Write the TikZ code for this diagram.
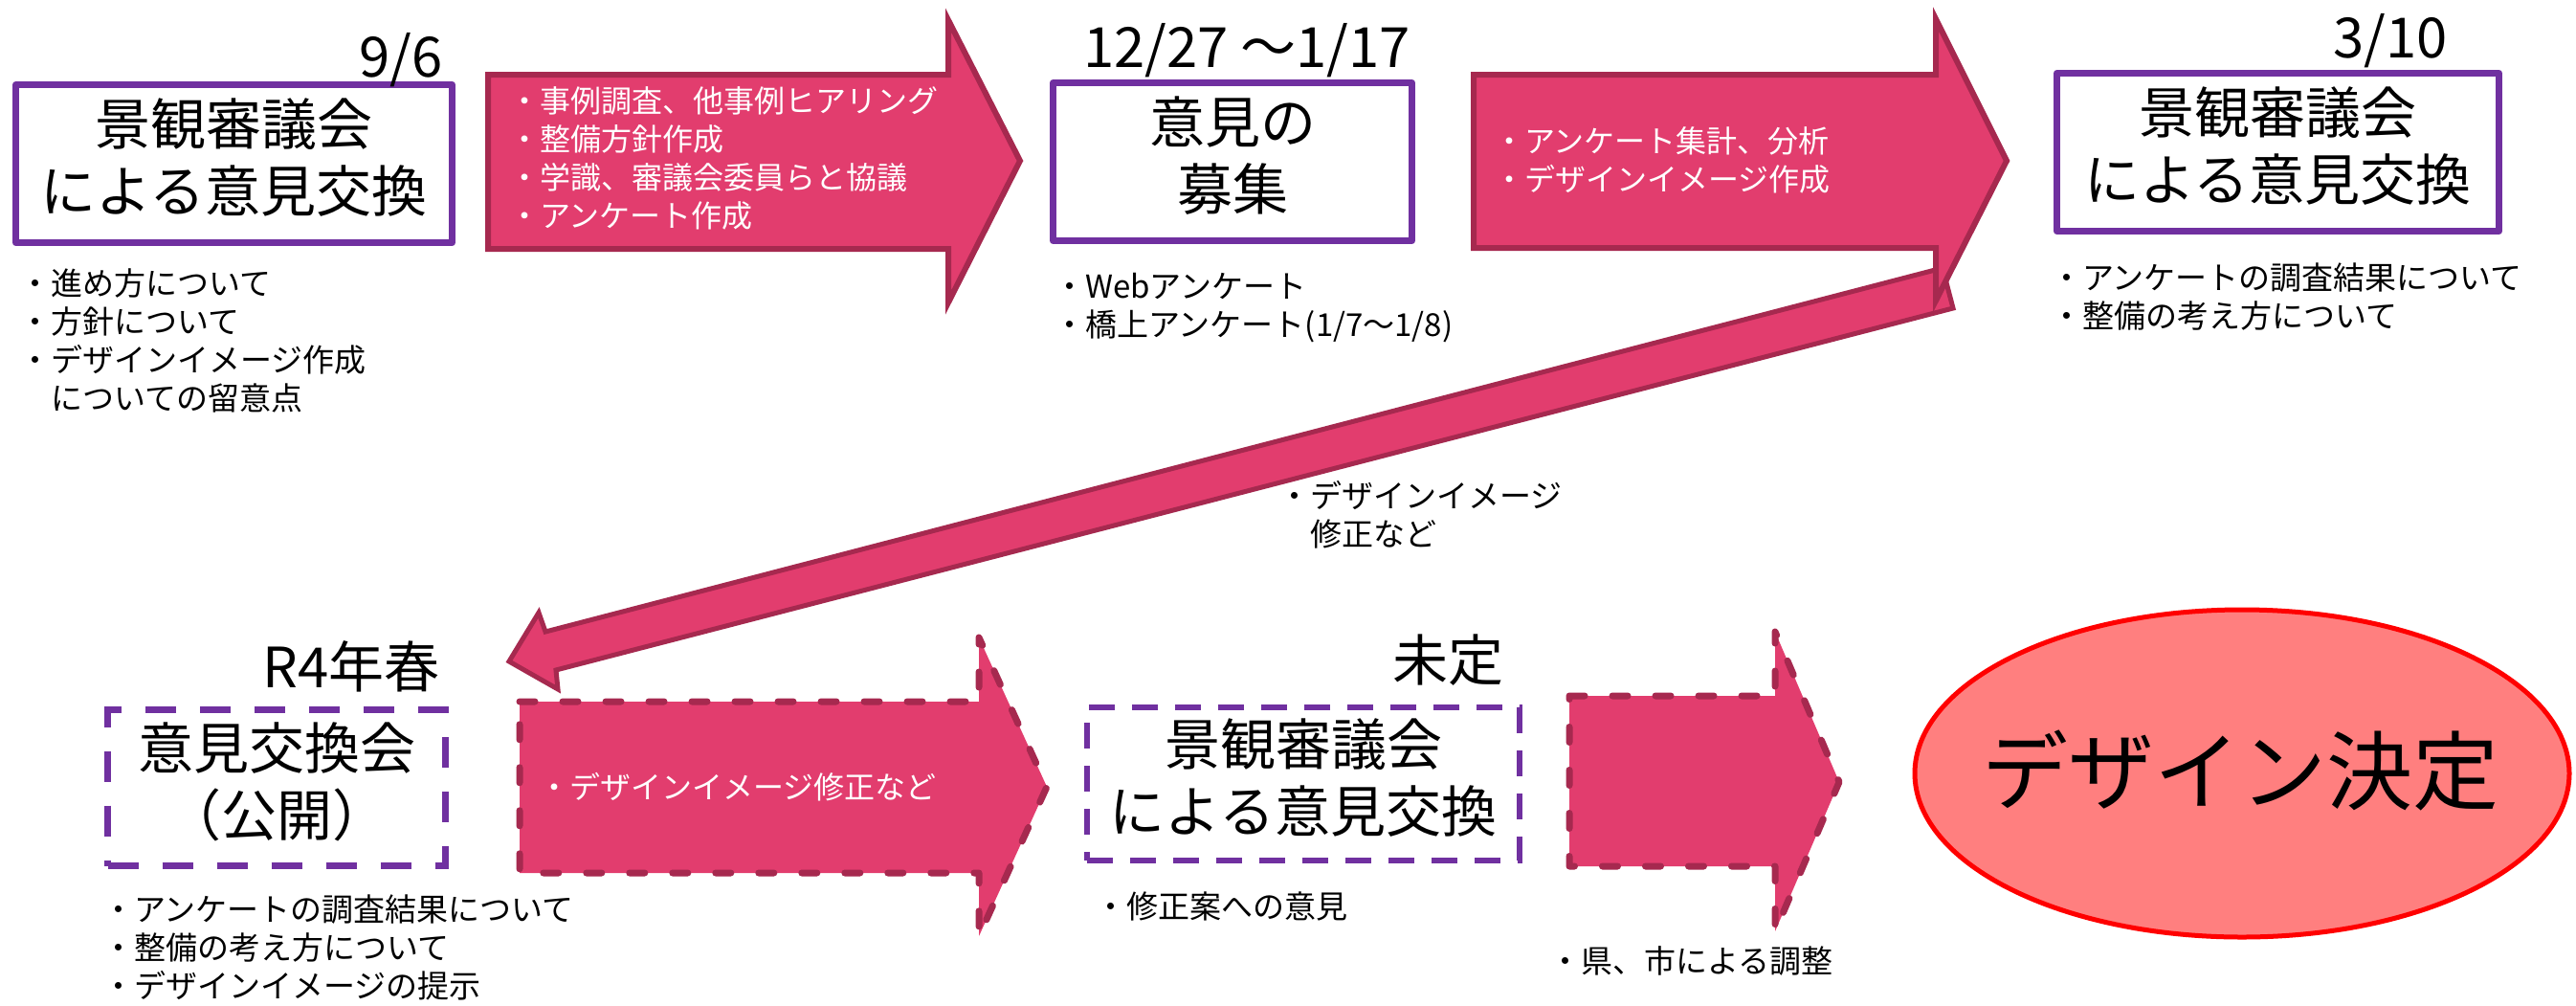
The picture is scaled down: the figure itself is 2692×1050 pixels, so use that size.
\documentclass[tikz,border=0pt]{standalone}
\usepackage{fontspec}
\setmainfont{Noto Sans CJK JP}
\usetikzlibrary{shapes.geometric}
\definecolor{purp}{HTML}{7030A0}
\definecolor{arrfill}{HTML}{E23D6E}
\definecolor{arrline}{HTML}{A6294F}
\definecolor{salmon}{HTML}{FF7F7F}
\tikzset{
  pbox/.style={draw=purp, line width=7pt, fill=white, line join=round, inner sep=0pt},
  pdbox/.style={draw=purp, line width=7pt, dash pattern=on 32pt off 25pt, inner sep=0pt},
  sarrow/.style={draw=arrline, fill=arrfill, line width=6pt, line join=miter},
  darrow/.style={draw=arrline, fill=arrfill, line width=7pt, dash pattern=on 16pt off 29pt, line cap=round, line join=round},
  bigtxt/.style={font=\fontsize{58}{70}\selectfont, align=center, inner sep=0pt},
  desctxt/.style={font=\fontsize{33}{40}\selectfont, align=left, inner sep=0pt, anchor=north west},
  wdesctxt/.style={desctxt, font=\fontsize{32}{40}\selectfont, text=white},
  datetxt/.style={font=\fontsize{58}{70}\selectfont, inner sep=0pt, anchor=base east},
}
\begin{document}
\begin{tikzpicture}[x=1pt, y=-1pt]
\useasboundingbox (0,0) rectangle (2692,1050);

% ---------- top row ----------
\node[pbox, minimum width=456pt, minimum height=165pt] (b1) at (244.5,171) {};
\node[bigtxt] (t1) at (244.5,165) {景観審議会\\による意見交換};
\node[datetxt] (d1date) at (463,80) {9/6};
\node[desctxt] (d1) at (20,280) {・進め方について\\・方針について\\・デザインイメージ作成\\　についての留意点};

\draw[sarrow] (510,78) -- (991,78) -- (991,21) -- (1066,168) -- (991,316) -- (991,260) -- (510,260) -- cycle;
\node[wdesctxt] (a1) at (532,90) {・事例調査、他事例ヒアリング\\・整備方針作成\\・学識、審議会委員らと協議\\・アンケート作成};

\node[pbox, minimum width=375pt, minimum height=165pt] (b2) at (1288,169) {};
\node[bigtxt] (t2) at (1288,162.5) {意見の\\募集};
\node[datetxt] (d2date) at (1474,70) {12/27 ～1/17};
\node[desctxt] (d2) at (1101,285) {・Webアンケート\\・橋上アンケート(1/7～1/8)};

% diagonal arrow (behind arrow 2)
\draw[sarrow, line width=5pt] (2030,280) -- (570,660) -- (563,640) -- (532,691) -- (583,720) -- (581,700) -- (2041,322) -- cycle;
\node[desctxt] (dl) at (1336,502) {・デザインイメージ\\　修正など};

\draw[sarrow] (1540,78) -- (2023,78) -- (2023,20) -- (2097,168) -- (2023,314) -- (2023,259) -- (1540,259) -- cycle;
\node[wdesctxt] (a2) at (1561,132) {・アンケート集計、分析\\・デザインイメージ作成};

\node[pbox, minimum width=462pt, minimum height=165pt] (b3) at (2380.5,159) {};
\node[bigtxt] (t3) at (2380.5,153) {景観審議会\\による意見交換};
\node[datetxt] (d3date) at (2558,60) {3/10};
\node[desctxt] (d3) at (2143,275) {・アンケートの調査結果について\\・整備の考え方について};

% ---------- bottom row ----------
\node[pdbox, minimum width=353pt, minimum height=163pt] (b4) at (289,823) {};
\node[bigtxt] (t4) at (289,817) {意見交換会\\（公開）};
\node[datetxt] (d4date) at (460,718) {R4年春};
\node[desctxt] (d4) at (107,935) {・アンケートの調査結果について\\・整備の考え方について\\・デザインイメージの提示};

\draw[darrow] (543,733) -- (1023,733) -- (1023,666) -- (1094,822) -- (1023,978) -- (1023,912) -- (543,912) -- cycle;
\node[wdesctxt] (a3) at (563,807) {・デザインイメージ修正など};

\node[pdbox, line width=5.5pt, dash pattern=on 27pt off 18pt, minimum width=452pt, minimum height=160pt] (b5) at (1362,819) {};
\node[bigtxt] (t5) at (1362,813) {景観審議会\\による意見交換};
\node[datetxt] (d5date) at (1572,711) {未定};
\node[desctxt] (d5) at (1144,932) {・修正案への意見};

\draw[darrow] (1640,727) -- (1855,727) -- (1855,660) -- (1922,817) -- (1855,973) -- (1855,905) -- (1640,905) -- cycle;
\node[desctxt] (d6) at (1619,988) {・県、市による調整};

\node[ellipse, draw=red, fill=salmon, line width=5pt, minimum width=684pt, minimum height=342pt, inner sep=0pt] (e) at (2343,808) {};
\node[inner sep=0pt, font=\fontsize{90}{100}\selectfont] (et) at (2341,805) {デザイン決定};
\end{tikzpicture}
\end{document}
